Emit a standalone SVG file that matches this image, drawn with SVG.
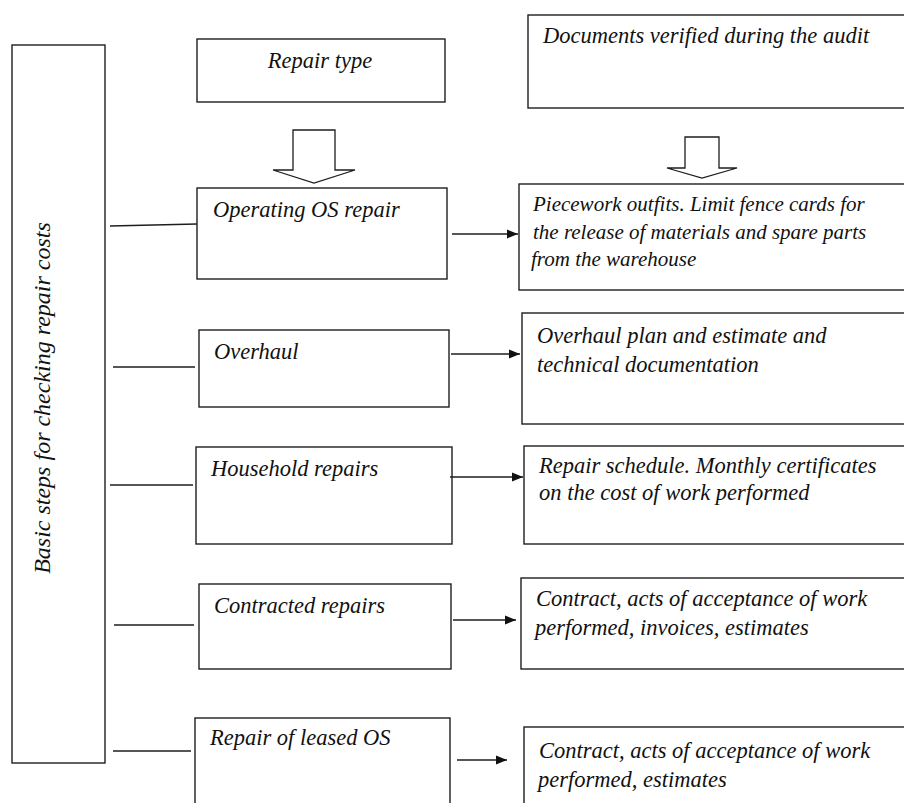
<svg xmlns="http://www.w3.org/2000/svg" width="904" height="803" viewBox="0 0 904 803">
  <style>
    .box { fill: #ffffff; stroke: #1e1e1e; stroke-width: 1.4; }
    .link { fill: none; stroke: #1e1e1e; stroke-width: 1.4; }
    .block { fill: #ffffff; stroke: #1e1e1e; stroke-width: 1.3; stroke-linejoin: miter; }
    text { font-family: 'Liberation Serif', 'DejaVu Serif', serif; font-style: italic; font-size: 22.5px; fill: #111111; }
    .small { font-size: 21px; }
    .side { font-size: 24px; }
  </style>
  <defs>
    <marker id="head" markerWidth="11" markerHeight="10" refX="11" refY="5" markerUnits="userSpaceOnUse" orient="auto">
      <path d="M0,0.5 L11,5 L0,9.5 Z" fill="#111111"/>
    </marker>
  </defs>
  <rect width="904" height="803" fill="#ffffff"/>

  <!-- left column title -->
  <g id="steps">
    <rect class="box" x="12" y="45" width="93" height="718"/>
    <text class="side" transform="translate(50,398) rotate(-90)" text-anchor="middle">Basic steps for checking repair costs</text>
  </g>

  <!-- column headers -->
  <g id="repair-type">
    <rect class="box" x="197" y="39" width="248" height="63"/>
    <text x="320" y="68" text-anchor="middle">Repair type</text>
  </g>
  <g id="documents">
    <rect class="box" x="528" y="15" width="390" height="93"/>
    <text x="543" y="43">Documents verified during the audit</text>
  </g>

  <!-- repair kinds -->
  <g id="operating">
    <rect class="box" x="197" y="188" width="250" height="91"/>
    <text x="213" y="217">Operating OS repair</text>
  </g>
  <g id="overhaul">
    <rect class="box" x="199" y="330" width="250" height="77"/>
    <text x="214" y="359">Overhaul</text>
  </g>
  <g id="household">
    <rect class="box" x="196" y="447" width="256" height="97"/>
    <text x="211" y="476">Household repairs</text>
  </g>
  <g id="contracted">
    <rect class="box" x="199" y="584" width="252" height="85"/>
    <text x="214" y="613">Contracted repairs</text>
  </g>
  <g id="leased">
    <rect class="box" x="195" y="718" width="255" height="100"/>
    <text x="210" y="745">Repair of leased OS</text>
  </g>

  <!-- documents per kind -->
  <g id="doc-operating">
    <rect class="box" x="519" y="184" width="400" height="106"/>
    <text class="small" x="533" y="211">Piecework outfits. Limit fence cards for</text>
    <text class="small" x="533" y="239">the release of materials and spare parts</text>
    <text class="small" x="531" y="266">from the warehouse</text>
  </g>
  <g id="doc-overhaul">
    <rect class="box" x="522" y="313" width="400" height="111"/>
    <text x="537" y="343">Overhaul plan and estimate and</text>
    <text x="537" y="372">technical documentation</text>
  </g>
  <g id="doc-household">
    <rect class="box" x="524" y="446" width="400" height="98"/>
    <text x="539" y="473">Repair schedule. Monthly certificates</text>
    <text x="539" y="500">on the cost of work performed</text>
  </g>
  <g id="doc-contracted">
    <rect class="box" x="521" y="578" width="400" height="91"/>
    <text x="536" y="606">Contract, acts of acceptance of work</text>
    <text x="535" y="635">performed, invoices, estimates</text>
  </g>
  <g id="doc-leased">
    <rect class="box" x="524" y="727" width="400" height="100"/>
    <text x="539" y="758">Contract, acts of acceptance of work</text>
    <text x="538" y="787">performed, estimates</text>
  </g>

  <!-- connectors -->
  <g id="connectors">
    <polygon class="block" points="293,130 335,130 335,170 355,170 314,183 273,170 293,170"/>
    <polygon class="block" points="685,137 719,137 719,168 737,168 702,178 667,168 685,168"/>

    <line class="link" x1="110" y1="226" x2="197" y2="224"/>
    <line class="link" x1="113" y1="367" x2="195" y2="367"/>
    <line class="link" x1="110" y1="485" x2="193" y2="485"/>
    <line class="link" x1="114" y1="625" x2="194" y2="625"/>
    <line class="link" x1="113" y1="751" x2="191" y2="751"/>

    <line class="link" x1="452" y1="234" x2="518" y2="234" marker-end="url(#head)"/>
    <line class="link" x1="451" y1="354" x2="520" y2="354" marker-end="url(#head)"/>
    <line class="link" x1="450" y1="477" x2="523" y2="477" marker-end="url(#head)"/>
    <line class="link" x1="453" y1="620" x2="516" y2="620" marker-end="url(#head)"/>
    <line class="link" x1="457" y1="760" x2="507" y2="760" marker-end="url(#head)"/>
  </g>
</svg>
